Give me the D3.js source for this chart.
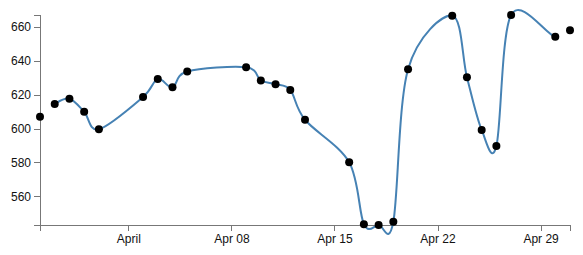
<!DOCTYPE html>
<html>
<head>
<meta charset="utf-8">
<script src="https://cdnjs.cloudflare.com/ajax/libs/d3/7.8.5/d3.min.js"></script>
<style>
  body { margin: 0; background: #fff; }
  .axis path, .axis line { fill: none; stroke: #777; shape-rendering: crispEdges; }
  .axis text { font: 12px "Liberation Sans", Arial, sans-serif; fill: #111; }
  .line { fill: none; stroke: steelblue; stroke-width: 2px; }
</style>
</head>
<body>
<div class="chart"></div>
<script>
// daily closes
var dates = ["2012-03-26","2012-03-27","2012-03-28","2012-03-29","2012-03-30",
             "2012-04-02","2012-04-03","2012-04-04","2012-04-05",
             "2012-04-09","2012-04-10","2012-04-11","2012-04-12","2012-04-13",
             "2012-04-16","2012-04-17","2012-04-18","2012-04-19","2012-04-20",
             "2012-04-23","2012-04-24","2012-04-25","2012-04-26","2012-04-27",
             "2012-04-30","2012-05-01"];
var closes = [607.0, 614.5, 617.6, 609.9, 599.6,
              618.6, 629.3, 624.3, 633.7,
              636.2, 628.4, 626.2, 622.8, 605.2,
              580.1, 543.6, 543.1, 545.0, 635.0,
              666.6, 630.3, 599.2, 589.7, 667.0,
              654.1, 658.0];

var margin = {top: 15, right: 13, bottom: 30, left: 40},
    width = 583 - margin.left - margin.right,
    height = 255 - margin.top - margin.bottom;

var parseDate = d3.timeParse("%Y-%m-%d");
var data = dates.map(function(d, i) { return {date: parseDate(d), close: closes[i]}; });

var x = d3.scaleTime()
    .domain(d3.extent(data, function(d) { return d.date; }))
    .range([0, width]);

var y = d3.scaleLinear()
    .domain(d3.extent(data, function(d) { return d.close; }))
    .range([height, 0]);

var svg = d3.select(".chart").append("svg")
    .attr("width", width + margin.left + margin.right)
    .attr("height", height + margin.top + margin.bottom)
  .append("g")
    .attr("transform", "translate(" + margin.left + "," + margin.top + ")");

svg.append("g")
    .attr("class", "x axis")
    .attr("transform", "translate(0," + height + ")")
    .call(d3.axisBottom(x).ticks(5));

svg.append("g")
    .attr("class", "y axis")
    .call(d3.axisLeft(y).ticks(5));

// open cardinal: first and last points only steer the curve
var line = d3.line()
    .curve(d3.curveCardinalOpen)
    .x(function(d) { return x(d.date); })
    .y(function(d) { return y(d.close); });

svg.append("path")
    .datum(data)
    .attr("class", "line")
    .attr("d", line);

svg.selectAll(".dot")
    .data(data)
  .enter().append("circle")
    .attr("class", "dot")
    .attr("cx", function(d) { return x(d.date); })
    .attr("cy", function(d) { return y(d.close); })
    .attr("r", 4)
    .attr("fill", "#000");
</script>
</body>
</html>
